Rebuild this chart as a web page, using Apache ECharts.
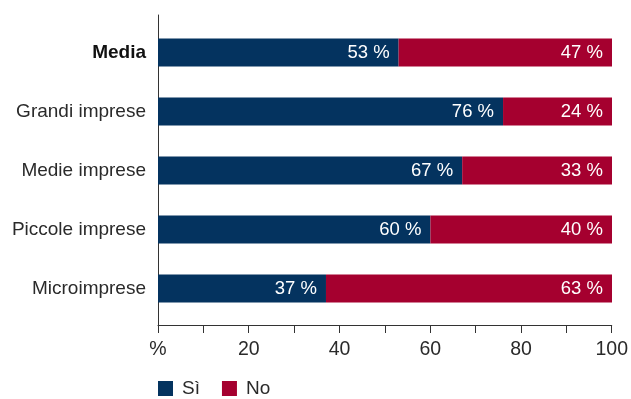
<!DOCTYPE html>
<html>
<head>
<meta charset="utf-8">
<script src="https://cdn.jsdelivr.net/npm/echarts@6/dist/echarts.min.js"></script>
<style>
  html, body { margin: 0; padding: 0; background: #fff; }
  #chart { width: 631px; height: 399px; }
</style>
</head>
<body>
<div id="chart"></div>
<script>
(function(){
  // dati
  var categories = ['Media', 'Grandi imprese', 'Medie imprese', 'Piccole imprese', 'Microimprese'];
  var siValues = [53, 76, 67, 60, 37];
  var noValues = [47, 24, 33, 40, 63];
  var xTicks = [0, 10, 20, 30, 40, 50, 60, 70, 80, 90, 100];
  var xTickLabels = ['%', '', '20', '', '40', '', '60', '', '80', '', '100'];

  var font = '"Liberation Sans", Arial, sans-serif';
  var myChart = echarts.init(document.getElementById('chart'));

  var option = {
    animation: false,
    color: ['#04335f', '#a5002f'],
    textStyle: { fontFamily: font },
    // griglia 0: barre, griglia 1: assi un po' più lunghi
    grid: [
      { left: 158, right: 19, top: 23, bottom: 81 },
      { left: 158, right: 19, top: 15, bottom: 74 }
    ],
    legend: {
      left: 158,
      top: 379,
      padding: 0,
      icon: 'rect',
      itemWidth: 15,
      itemHeight: 15,
      itemGap: 22,
      textStyle: { fontSize: 19, color: '#2a2a2a', fontFamily: font, padding: [0, 0, 0, 4] },
      data: ['Sì', 'No']
    },
    xAxis: [
      { gridIndex: 0, type: 'value', min: 0, max: 100, show: false },
      {
        gridIndex: 1, type: 'value', min: 0, max: 100, interval: 10,
        axisLine: { show: true, lineStyle: { color: '#333', width: 1 } },
        axisTick: { show: true, length: 8, lineStyle: { color: '#333' } },
        splitLine: { show: false },
        axisLabel: {
          margin: 15,
          fontSize: 19.5,
          color: '#2a2a2a',
          formatter: function (v) {
            var i = xTicks.indexOf(v);
            return i >= 0 ? xTickLabels[i] : '';
          }
        }
      }
    ],
    yAxis: [
      {
        gridIndex: 0, type: 'category', inverse: true, data: categories,
        axisLine: { show: false },
        axisTick: { show: false },
        axisLabel: {
          margin: 12,
          fontSize: 19,
          color: '#2a2a2a',
          formatter: function (v, i) {
            return i === 0 ? '{b|' + v + '}' : v;
          },
          rich: {
            b: { fontSize: 19, fontWeight: 'bold', color: '#111', fontFamily: font }
          }
        }
      },
      {
        gridIndex: 1, type: 'value', min: 0, max: 1,
        axisLine: { show: true, lineStyle: { color: '#333', width: 1 } },
        axisTick: { show: false },
        axisLabel: { show: false },
        splitLine: { show: false }
      }
    ],
    series: [
      {
        name: 'Sì', type: 'bar', stack: 'tot',
        xAxisIndex: 0, yAxisIndex: 0,
        barWidth: 28,
        data: siValues,
        label: {
          show: true, position: 'insideRight', distance: 9,
          formatter: '{c} %', color: '#fff', fontSize: 18.5
        }
      },
      {
        name: 'No', type: 'bar', stack: 'tot',
        xAxisIndex: 0, yAxisIndex: 0,
        barWidth: 28,
        data: noValues,
        label: {
          show: true, position: 'insideRight', distance: 9,
          formatter: '{c} %', color: '#fff', fontSize: 18.5
        }
      }
    ]
  };

  myChart.setOption(option);

  window.addEventListener('resize', function () {
    myChart.resize();
  });
})();
</script>
</body>
</html>
